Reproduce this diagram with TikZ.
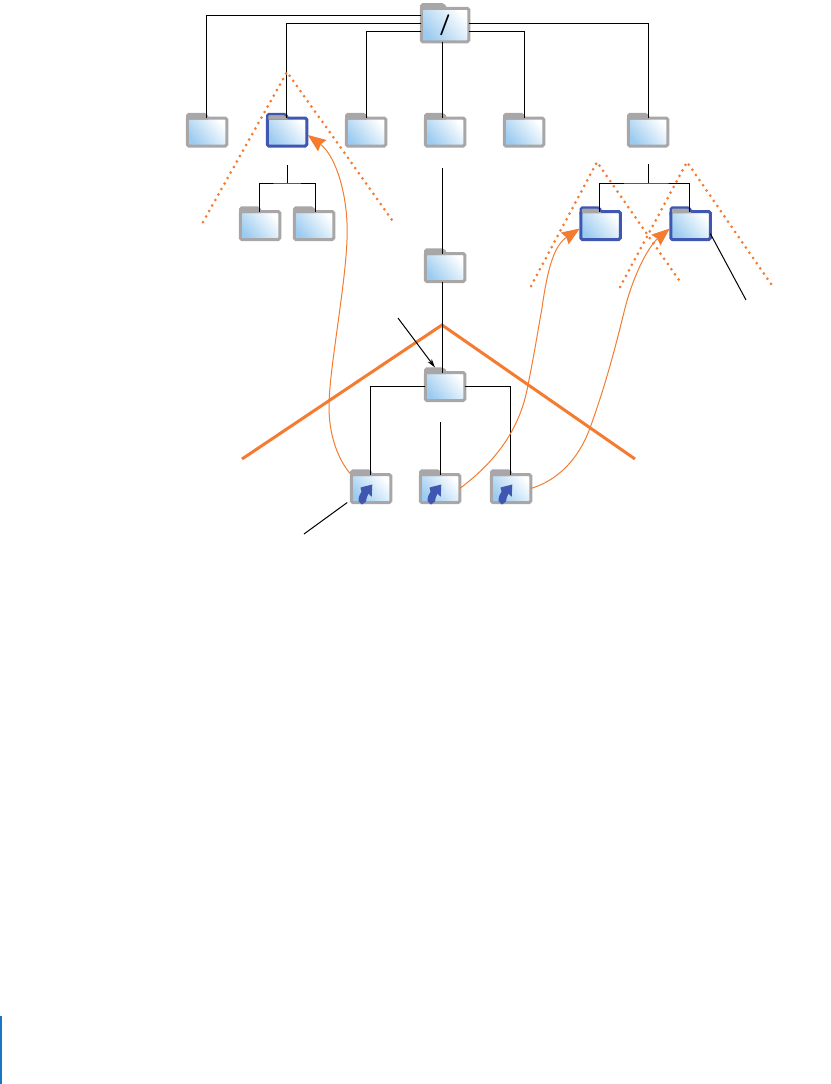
\documentclass[tikz,border=0pt]{standalone}
\usetikzlibrary{arrows.meta,calc}

\definecolor{figgray}{RGB}{168,166,167}
\definecolor{figblue}{RGB}{63,87,176}
\definecolor{figorange}{RGB}{244,123,48}
\definecolor{figsky}{RGB}{155,203,240}
\definecolor{figbar}{RGB}{26,117,196}

\tikzset{
  folderbody/.style={rounded corners=1.5,line width=3,outer sep=0,inner sep=0,
    minimum width=39.5,minimum height=28,
    bottom color=figsky,top color=white,shading angle=-50},
  rootbody/.style={minimum width=47.5,minimum height=33.5},
  wire/.style={line width=1},
  pointer/.style={line width=1},
  jump/.style={figorange,line width=1,-{Stealth[length=18pt,width=14pt,inset=2pt]}},
  wedge/.style={figorange,line width=3},
  dotted wedge/.style={figorange,line width=3,line cap=round,dash pattern=on 0pt off 6.3pt},
}

% folder: node options, frame colour, name, x, y
\newcommand{\folder}[5][]{
  \node[folderbody,draw=#2,#1] (#3) at (#4,#5) {};
  \fill[figgray] ([yshift=-1.5]#3.north west) -- ($(#3.north west)+(0,-4)$) --
    ($(#3.north west)!0.47!(#3.north east)+(0,-4)$) --
    ($(#3.north west)!0.52!(#3.north east)+(0,1.5)$) -- cycle;
  \draw[#2,line width=2.2,rounded corners=1.5] ([yshift=-3]#3.north west) -- ($(#3.north west)+(0,-4)$) --
    ($(#3.north west)!0.47!(#3.north east)+(0,-4)$) --
    ($(#3.north west)!0.52!(#3.north east)+(0,0)$);
}
% curved arrow on a linked folder
\newcommand{\linkmark}[1]{
  \fill[figblue] ($(#1.south)+(-12.5,-1.5)$) .. controls ($(#1.south)+(-12.5,-6)$) and ($(#1.south)+(-11,-9)$) ..
    ($(#1.south)+(-9.5,-10.7)$) -- ($(#1.south)+(-10.5,-15)$) -- ($(#1.south)+(1.3,-18)$) --
    ($(#1.south)+(0.7,-5.7)$) -- ($(#1.south)+(-2.5,-9)$) .. controls ($(#1.south)+(-4,-6)$) and ($(#1.south)+(-5,-3)$) ..
    ($(#1.south)+(-5,-1)$) -- ($(#1.south)+(-9,2)$) -- cycle;
}

\begin{document}
\begin{tikzpicture}[x=1pt,y=-1pt]
  \useasboundingbox (0,0) rectangle (830,1084);
  \fill[figbar] (0,1016) rectangle (2,1084);

  % big wedge
  \coordinate (wedgeleft) at (242,459);
  \coordinate (wedgetop) at (442,325);
  \coordinate (wedgeright) at (635,459);
  \draw[wedge] (wedgeleft) -- (wedgetop) -- (wedgeright);

  % folders
  \folder[rootbody]{figgray}{root}{445}{25}
  \folder{figgray}{topa}{207}{132}
  \folder{figblue}{topb}{287}{132}
  \folder{figgray}{topc}{366}{132}
  \folder{figgray}{topd}{445}{132}
  \folder{figgray}{tope}{524}{132}
  \folder{figgray}{topf}{648}{132}
  \folder{figgray}{suba}{260}{225.5}
  \folder{figgray}{subb}{314}{225.5}
  \folder{figblue}{subc}{600.5}{225.5}
  \folder{figblue}{subd}{690.5}{225.5}
  \folder{figgray}{midfolder}{445}{267.5}
  \folder{figgray}{homefolder}{445}{386.5}
  \folder{figgray}{linka}{371}{488.5}
  \folder{figgray}{linkb}{440}{488.5}
  \folder{figgray}{linkc}{511}{488.5}
  \linkmark{linka}
  \linkmark{linkb}
  \linkmark{linkc}
  \node[font=\fontsize{21}{21}\sffamily\bfseries] (slash) at (root) {/};

  % tree from the root
  \draw[wire] ([yshift=10]root.west) -| ([xshift=-1]topa.north);
  \draw[wire] ([yshift=2]root.west) -| ([xshift=-1]topb.north);
  \draw[wire] ([yshift=-6]root.west) -| (topc.north);
  \draw[wire] ([yshift=2]root.east) -| (topf.north);
  \draw[wire] ([yshift=-6]root.east) -| (tope.north);
  \draw[wire] ([xshift=-3]root.south) -- ([xshift=-3]topd.north);

  % stubs under the top row
  \coordinate (stuba) at (287,165);
  \coordinate (forka) at (287,183);
  \coordinate (stubb) at (648,164);
  \coordinate (forkb) at (648,183);
  \coordinate (stubc) at (442,168);
  \coordinate (stubd) at (440,422);
  \draw[wire] (stuba) -- (forka);
  \draw[wire] ([xshift=-1]suba.north) |- (forka) -| ([xshift=1]subb.north);
  \draw[wire] (stubb) -- (forkb);
  \draw[wire] ([xshift=-1.5]subc.north) |- (forkb) -| ([xshift=-1.5]subd.north);
  \draw[wire] (stubc) -- ([xshift=-3]midfolder.north);
  \draw[wire] ([xshift=-3]midfolder.south) -- ([xshift=-3]homefolder.north);
  \draw[wire] (homefolder.west) -| ([xshift=-1]linka.north);
  \draw[wire] (homefolder.east) -| ([xshift=-1]linkc.north);
  \draw[wire] (stubd) -- (linkb.north);

  % pointers
  \coordinate (pointa) at (398,318);
  \coordinate (pointb) at (304,534);
  \coordinate (pointc) at (746,300);
  \draw[pointer,-{Stealth[length=9pt,width=5pt]}] (pointa) -- ([xshift=-10,yshift=5]homefolder.north);
  \draw[pointer] (pointb) -- ([xshift=-4]linka.south west);
  \draw[pointer] (pointc) -- ([yshift=6]subd.south east);

  % dotted wedges
  \coordinate (dotaleft) at (203,222);
  \coordinate (dotatop) at (287,72);
  \coordinate (dotaright) at (392,220);
  \coordinate (dotbleft) at (531,286);
  \coordinate (dotbtop) at (597,162);
  \coordinate (dotbright) at (681,283);
  \coordinate (dotcleft) at (620,287);
  \coordinate (dotctop) at (687,162);
  \coordinate (dotcright) at (771,284);
  \draw[dotted wedge] (dotaleft) -- (dotatop) -- (dotaright);
  \draw[dotted wedge] (dotbleft) -- (dotbtop) -- (dotbright);
  \draw[dotted wedge] (dotcleft) -- (dotctop) -- (dotcright);

  % jumps from the links
  \draw[jump] ([xshift=-21,yshift=15]linka.center) .. controls (335,455) and (329,430) .. (329,407)
    .. controls (329,370) and (345,290) .. (347,240) .. controls (349,195) and (335,155) .. ([xshift=1,yshift=-3]topb.east);
  \draw[jump] (linkb.east) .. controls (495,462) and (520,430) .. (528,385)
    .. controls (535,350) and (538,330) .. (542,308) .. controls (548,265) and (555,245) .. ([xshift=-1,yshift=-3]subc.west);
  \draw[jump] (linkc.east) .. controls (565,478) and (582,450) .. (590,428)
    .. controls (600,400) and (610,370) .. (625,308) .. controls (635,270) and (650,245) .. ([xshift=-1,yshift=-3]subd.west);
\end{tikzpicture}
\end{document}
